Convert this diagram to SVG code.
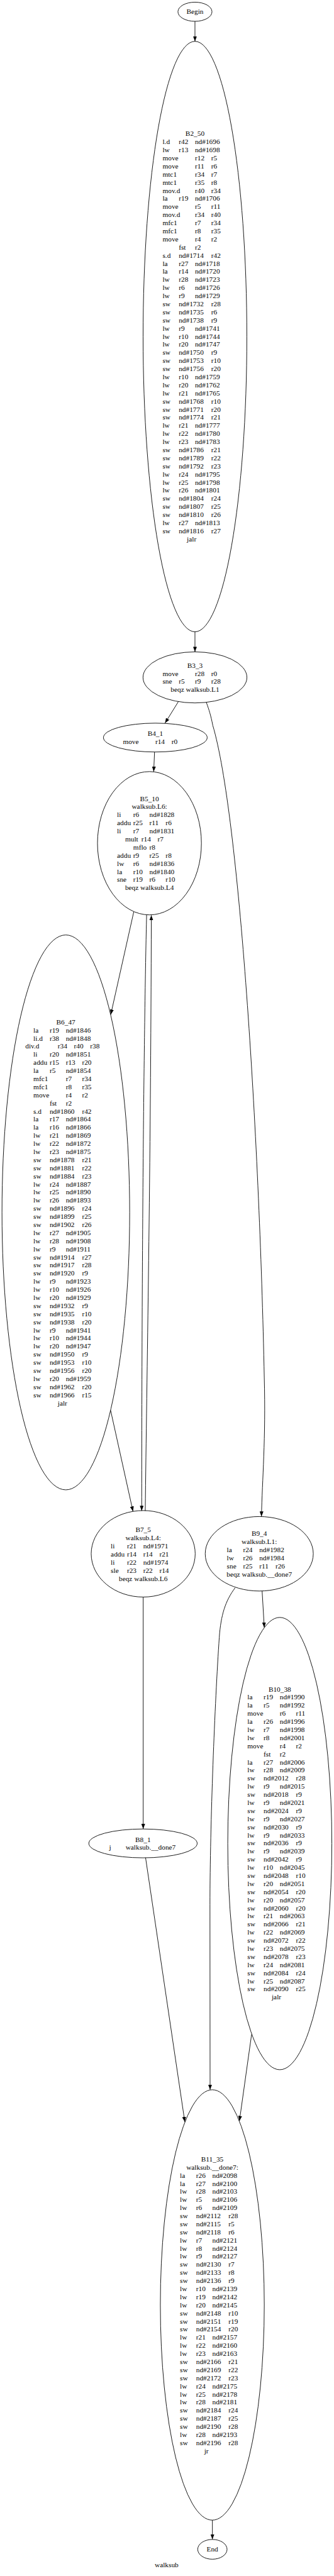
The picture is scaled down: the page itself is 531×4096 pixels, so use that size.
<svg xmlns="http://www.w3.org/2000/svg" width="531" height="4096" viewBox="0 0 531 4096">
<style>
text{font-family:"Liberation Serif","Times New Roman",serif;font-size:17.6px;fill:#000}
.c{text-anchor:middle}
ellipse{fill:none;stroke:#000;stroke-width:1.4}
#edges path{fill:none;stroke:#000;stroke-width:1.4}
</style>
<defs>
<marker id="ah" viewBox="0 0 12.5 9.4" refX="12.5" refY="4.7" markerWidth="12.5" markerHeight="9.4" markerUnits="userSpaceOnUse" orient="auto"><path d="M0,0 L12.5,4.7 L0,9.4 z" fill="#000"/></marker>
</defs>
<rect width="531" height="4096" fill="#fff"/>
<g transform="scale(0.6444)">
<g id="edges">
<path marker-end="url(#ah)" d="M481,52.8 L481,102"/>
<path marker-end="url(#ah)" d="M481,1559 L481,1608.4"/>
<path marker-end="url(#ah)" d="M440.2,1731 L407.1,1784.4"/>
<path marker-end="url(#ah)" d="M509,1733 C516,1752 520,1765 525,1790 C590,2010 640,2800 652,3400 C656,3550 647,3650 645,3742"/>
<path marker-end="url(#ah)" d="M381.3,1855.6 L379.2,1904"/>
<path marker-end="url(#ah)" d="M330,2250 L273.3,2503.4"/>
<path marker-end="url(#ah)" d="M361.7,2257.5 C356,2500 350,3000 349.6,3728"/>
<path marker-end="url(#ah)" d="M358.4,3728 C362,3400 372,2900 373.3,2258.4"/>
<path marker-end="url(#ah)" d="M272.9,3480 L328.1,3729.5"/>
<path marker-end="url(#ah)" d="M353.3,3940.7 L353.3,4513"/>
<path marker-end="url(#ah)" d="M359.2,4584 L456,5236"/>
<path marker-end="url(#ah)" d="M646.7,3926 L652,4016"/>
<path marker-end="url(#ah)" d="M580,3918 C556,3950 545,3985 541,4040 C530,4200 518,4500 518,4700 L518.3,5156.5"/>
<path marker-end="url(#ah)" d="M620.7,5020 L590.7,5233.5"/>
<path marker-end="url(#ah)" d="M524,6218.4 L524,6266"/>
</g>
<g id="Begin" transform="translate(481,0)">
<ellipse cx="0" cy="29" rx="42" ry="23.6"/>
<text class="c" x="0" y="34.5">Begin</text>
</g>
<g id="B2_50" transform="translate(481,0)">
<ellipse cx="0" cy="830.5" rx="128" ry="728.5"/>
<text class="c" x="0" y="335.7">B2_50</text>
<text y="355.7"><tspan x="-80">l.d</tspan><tspan x="-40">r42</tspan><tspan x="0">nd#1696</tspan></text>
<text y="375.7"><tspan x="-80">lw</tspan><tspan x="-40">r13</tspan><tspan x="0">nd#1698</tspan></text>
<text y="395.7"><tspan x="-80">move</tspan><tspan x="0">r12</tspan><tspan x="40">r5</tspan></text>
<text y="415.7"><tspan x="-80">move</tspan><tspan x="0">r11</tspan><tspan x="40">r6</tspan></text>
<text y="435.7"><tspan x="-80">mtc1</tspan><tspan x="0">r34</tspan><tspan x="40">r7</tspan></text>
<text y="455.7"><tspan x="-80">mtc1</tspan><tspan x="0">r35</tspan><tspan x="40">r8</tspan></text>
<text y="475.7"><tspan x="-80">mov.d</tspan><tspan x="0">r40</tspan><tspan x="40">r34</tspan></text>
<text y="495.7"><tspan x="-80">la</tspan><tspan x="-40">r19</tspan><tspan x="0">nd#1706</tspan></text>
<text y="515.7"><tspan x="-80">move</tspan><tspan x="0">r5</tspan><tspan x="40">r11</tspan></text>
<text y="535.7"><tspan x="-80">mov.d</tspan><tspan x="0">r34</tspan><tspan x="40">r40</tspan></text>
<text y="555.7"><tspan x="-80">mfc1</tspan><tspan x="0">r7</tspan><tspan x="40">r34</tspan></text>
<text y="575.7"><tspan x="-80">mfc1</tspan><tspan x="0">r8</tspan><tspan x="40">r35</tspan></text>
<text y="595.7"><tspan x="-80">move</tspan><tspan x="0">r4</tspan><tspan x="40">r2</tspan></text>
<text y="615.7"><tspan x="-40">fst</tspan><tspan x="0">r2</tspan></text>
<text y="635.7"><tspan x="-80">s.d</tspan><tspan x="-40">nd#1714</tspan><tspan x="40">r42</tspan></text>
<text y="655.7"><tspan x="-80">la</tspan><tspan x="-40">r27</tspan><tspan x="0">nd#1718</tspan></text>
<text y="675.7"><tspan x="-80">la</tspan><tspan x="-40">r14</tspan><tspan x="0">nd#1720</tspan></text>
<text y="695.7"><tspan x="-80">lw</tspan><tspan x="-40">r28</tspan><tspan x="0">nd#1723</tspan></text>
<text y="715.7"><tspan x="-80">lw</tspan><tspan x="-40">r6</tspan><tspan x="0">nd#1726</tspan></text>
<text y="735.7"><tspan x="-80">lw</tspan><tspan x="-40">r9</tspan><tspan x="0">nd#1729</tspan></text>
<text y="755.7"><tspan x="-80">sw</tspan><tspan x="-40">nd#1732</tspan><tspan x="40">r28</tspan></text>
<text y="775.7"><tspan x="-80">sw</tspan><tspan x="-40">nd#1735</tspan><tspan x="40">r6</tspan></text>
<text y="795.7"><tspan x="-80">sw</tspan><tspan x="-40">nd#1738</tspan><tspan x="40">r9</tspan></text>
<text y="815.7"><tspan x="-80">lw</tspan><tspan x="-40">r9</tspan><tspan x="0">nd#1741</tspan></text>
<text y="835.7"><tspan x="-80">lw</tspan><tspan x="-40">r10</tspan><tspan x="0">nd#1744</tspan></text>
<text y="855.7"><tspan x="-80">lw</tspan><tspan x="-40">r20</tspan><tspan x="0">nd#1747</tspan></text>
<text y="875.7"><tspan x="-80">sw</tspan><tspan x="-40">nd#1750</tspan><tspan x="40">r9</tspan></text>
<text y="895.7"><tspan x="-80">sw</tspan><tspan x="-40">nd#1753</tspan><tspan x="40">r10</tspan></text>
<text y="915.7"><tspan x="-80">sw</tspan><tspan x="-40">nd#1756</tspan><tspan x="40">r20</tspan></text>
<text y="935.7"><tspan x="-80">lw</tspan><tspan x="-40">r10</tspan><tspan x="0">nd#1759</tspan></text>
<text y="955.7"><tspan x="-80">lw</tspan><tspan x="-40">r20</tspan><tspan x="0">nd#1762</tspan></text>
<text y="975.7"><tspan x="-80">lw</tspan><tspan x="-40">r21</tspan><tspan x="0">nd#1765</tspan></text>
<text y="995.7"><tspan x="-80">sw</tspan><tspan x="-40">nd#1768</tspan><tspan x="40">r10</tspan></text>
<text y="1015.7"><tspan x="-80">sw</tspan><tspan x="-40">nd#1771</tspan><tspan x="40">r20</tspan></text>
<text y="1035.7"><tspan x="-80">sw</tspan><tspan x="-40">nd#1774</tspan><tspan x="40">r21</tspan></text>
<text y="1055.7"><tspan x="-80">lw</tspan><tspan x="-40">r21</tspan><tspan x="0">nd#1777</tspan></text>
<text y="1075.7"><tspan x="-80">lw</tspan><tspan x="-40">r22</tspan><tspan x="0">nd#1780</tspan></text>
<text y="1095.7"><tspan x="-80">lw</tspan><tspan x="-40">r23</tspan><tspan x="0">nd#1783</tspan></text>
<text y="1115.7"><tspan x="-80">sw</tspan><tspan x="-40">nd#1786</tspan><tspan x="40">r21</tspan></text>
<text y="1135.7"><tspan x="-80">sw</tspan><tspan x="-40">nd#1789</tspan><tspan x="40">r22</tspan></text>
<text y="1155.7"><tspan x="-80">sw</tspan><tspan x="-40">nd#1792</tspan><tspan x="40">r23</tspan></text>
<text y="1175.7"><tspan x="-80">lw</tspan><tspan x="-40">r24</tspan><tspan x="0">nd#1795</tspan></text>
<text y="1195.7"><tspan x="-80">lw</tspan><tspan x="-40">r25</tspan><tspan x="0">nd#1798</tspan></text>
<text y="1215.7"><tspan x="-80">lw</tspan><tspan x="-40">r26</tspan><tspan x="0">nd#1801</tspan></text>
<text y="1235.7"><tspan x="-80">sw</tspan><tspan x="-40">nd#1804</tspan><tspan x="40">r24</tspan></text>
<text y="1255.7"><tspan x="-80">sw</tspan><tspan x="-40">nd#1807</tspan><tspan x="40">r25</tspan></text>
<text y="1275.7"><tspan x="-80">sw</tspan><tspan x="-40">nd#1810</tspan><tspan x="40">r26</tspan></text>
<text y="1295.7"><tspan x="-80">lw</tspan><tspan x="-40">r27</tspan><tspan x="0">nd#1813</tspan></text>
<text y="1315.7"><tspan x="-80">sw</tspan><tspan x="-40">nd#1816</tspan><tspan x="40">r27</tspan></text>
<text x="-20" y="1335.7">jalr</text>
</g>
<g id="B3_3" transform="translate(481,0)">
<ellipse cx="0" cy="1671.5" rx="128.2" ry="63"/>
<text class="c" x="0" y="1647.5">B3_3</text>
<text y="1667.5"><tspan x="-80">move</tspan><tspan x="0">r28</tspan><tspan x="40">r0</tspan></text>
<text y="1687.5"><tspan x="-80">sne</tspan><tspan x="-40">r5</tspan><tspan x="0">r9</tspan><tspan x="40">r28</tspan></text>
<text class="c" x="0" y="1707.5">beqz walksub.L1</text>
</g>
<g id="B4_1" transform="translate(383.2,0)">
<ellipse cx="0" cy="1820" rx="128" ry="35.6"/>
<text class="c" x="0" y="1815.6">B4_1</text>
<text y="1835.6"><tspan x="-80">move</tspan><tspan x="0">r14</tspan><tspan x="40">r0</tspan></text>
</g>
<g id="B5_10" transform="translate(368.7,0)">
<ellipse cx="0" cy="2080.7" rx="128.2" ry="176.8"/>
<text class="c" x="0" y="1976.3">B5_10</text>
<text class="c" x="0" y="1996.3">walksub.L6:</text>
<text y="2016.3"><tspan x="-80">li</tspan><tspan x="-40">r6</tspan><tspan x="0">nd#1828</tspan></text>
<text y="2036.3"><tspan x="-80">addu</tspan><tspan x="-40">r25</tspan><tspan x="0">r11</tspan><tspan x="40">r6</tspan></text>
<text y="2056.3"><tspan x="-80">li</tspan><tspan x="-40">r7</tspan><tspan x="0">nd#1831</tspan></text>
<text y="2076.3"><tspan x="-60">mult</tspan><tspan x="-20">r14</tspan><tspan x="20">r7</tspan></text>
<text y="2096.3"><tspan x="-40">mflo</tspan><tspan x="0">r8</tspan></text>
<text y="2116.3"><tspan x="-80">addu</tspan><tspan x="-40">r9</tspan><tspan x="0">r25</tspan><tspan x="40">r8</tspan></text>
<text y="2136.3"><tspan x="-80">lw</tspan><tspan x="-40">r6</tspan><tspan x="0">nd#1836</tspan></text>
<text y="2156.3"><tspan x="-80">la</tspan><tspan x="-40">r10</tspan><tspan x="0">nd#1840</tspan></text>
<text y="2176.3"><tspan x="-80">sne</tspan><tspan x="-40">r19</tspan><tspan x="0">r6</tspan><tspan x="40">r10</tspan></text>
<text class="c" x="0" y="2196.3">beqz walksub.L4</text>
</g>
<g id="B6_47" transform="translate(162.4,0)">
<ellipse cx="0" cy="2991.6" rx="157.5" ry="684.6"/>
<text class="c" x="0" y="2527.6">B6_47</text>
<text y="2547.6"><tspan x="-80">la</tspan><tspan x="-40">r19</tspan><tspan x="0">nd#1846</tspan></text>
<text y="2567.6"><tspan x="-80">li.d</tspan><tspan x="-40">r38</tspan><tspan x="0">nd#1848</tspan></text>
<text y="2587.6"><tspan x="-100">div.d</tspan><tspan x="-20">r34</tspan><tspan x="20">r40</tspan><tspan x="60">r38</tspan></text>
<text y="2607.6"><tspan x="-80">li</tspan><tspan x="-40">r20</tspan><tspan x="0">nd#1851</tspan></text>
<text y="2627.6"><tspan x="-80">addu</tspan><tspan x="-40">r15</tspan><tspan x="0">r13</tspan><tspan x="40">r20</tspan></text>
<text y="2647.6"><tspan x="-80">la</tspan><tspan x="-40">r5</tspan><tspan x="0">nd#1854</tspan></text>
<text y="2667.6"><tspan x="-80">mfc1</tspan><tspan x="0">r7</tspan><tspan x="40">r34</tspan></text>
<text y="2687.6"><tspan x="-80">mfc1</tspan><tspan x="0">r8</tspan><tspan x="40">r35</tspan></text>
<text y="2707.6"><tspan x="-80">move</tspan><tspan x="0">r4</tspan><tspan x="40">r2</tspan></text>
<text y="2727.6"><tspan x="-40">fst</tspan><tspan x="0">r2</tspan></text>
<text y="2747.6"><tspan x="-80">s.d</tspan><tspan x="-40">nd#1860</tspan><tspan x="40">r42</tspan></text>
<text y="2767.6"><tspan x="-80">la</tspan><tspan x="-40">r17</tspan><tspan x="0">nd#1864</tspan></text>
<text y="2787.6"><tspan x="-80">la</tspan><tspan x="-40">r16</tspan><tspan x="0">nd#1866</tspan></text>
<text y="2807.6"><tspan x="-80">lw</tspan><tspan x="-40">r21</tspan><tspan x="0">nd#1869</tspan></text>
<text y="2827.6"><tspan x="-80">lw</tspan><tspan x="-40">r22</tspan><tspan x="0">nd#1872</tspan></text>
<text y="2847.6"><tspan x="-80">lw</tspan><tspan x="-40">r23</tspan><tspan x="0">nd#1875</tspan></text>
<text y="2867.6"><tspan x="-80">sw</tspan><tspan x="-40">nd#1878</tspan><tspan x="40">r21</tspan></text>
<text y="2887.6"><tspan x="-80">sw</tspan><tspan x="-40">nd#1881</tspan><tspan x="40">r22</tspan></text>
<text y="2907.6"><tspan x="-80">sw</tspan><tspan x="-40">nd#1884</tspan><tspan x="40">r23</tspan></text>
<text y="2927.6"><tspan x="-80">lw</tspan><tspan x="-40">r24</tspan><tspan x="0">nd#1887</tspan></text>
<text y="2947.6"><tspan x="-80">lw</tspan><tspan x="-40">r25</tspan><tspan x="0">nd#1890</tspan></text>
<text y="2967.6"><tspan x="-80">lw</tspan><tspan x="-40">r26</tspan><tspan x="0">nd#1893</tspan></text>
<text y="2987.6"><tspan x="-80">sw</tspan><tspan x="-40">nd#1896</tspan><tspan x="40">r24</tspan></text>
<text y="3007.6"><tspan x="-80">sw</tspan><tspan x="-40">nd#1899</tspan><tspan x="40">r25</tspan></text>
<text y="3027.6"><tspan x="-80">sw</tspan><tspan x="-40">nd#1902</tspan><tspan x="40">r26</tspan></text>
<text y="3047.6"><tspan x="-80">lw</tspan><tspan x="-40">r27</tspan><tspan x="0">nd#1905</tspan></text>
<text y="3067.6"><tspan x="-80">lw</tspan><tspan x="-40">r28</tspan><tspan x="0">nd#1908</tspan></text>
<text y="3087.6"><tspan x="-80">lw</tspan><tspan x="-40">r9</tspan><tspan x="0">nd#1911</tspan></text>
<text y="3107.6"><tspan x="-80">sw</tspan><tspan x="-40">nd#1914</tspan><tspan x="40">r27</tspan></text>
<text y="3127.6"><tspan x="-80">sw</tspan><tspan x="-40">nd#1917</tspan><tspan x="40">r28</tspan></text>
<text y="3147.6"><tspan x="-80">sw</tspan><tspan x="-40">nd#1920</tspan><tspan x="40">r9</tspan></text>
<text y="3167.6"><tspan x="-80">lw</tspan><tspan x="-40">r9</tspan><tspan x="0">nd#1923</tspan></text>
<text y="3187.6"><tspan x="-80">lw</tspan><tspan x="-40">r10</tspan><tspan x="0">nd#1926</tspan></text>
<text y="3207.6"><tspan x="-80">lw</tspan><tspan x="-40">r20</tspan><tspan x="0">nd#1929</tspan></text>
<text y="3227.6"><tspan x="-80">sw</tspan><tspan x="-40">nd#1932</tspan><tspan x="40">r9</tspan></text>
<text y="3247.6"><tspan x="-80">sw</tspan><tspan x="-40">nd#1935</tspan><tspan x="40">r10</tspan></text>
<text y="3267.6"><tspan x="-80">sw</tspan><tspan x="-40">nd#1938</tspan><tspan x="40">r20</tspan></text>
<text y="3287.6"><tspan x="-80">lw</tspan><tspan x="-40">r9</tspan><tspan x="0">nd#1941</tspan></text>
<text y="3307.6"><tspan x="-80">lw</tspan><tspan x="-40">r10</tspan><tspan x="0">nd#1944</tspan></text>
<text y="3327.6"><tspan x="-80">lw</tspan><tspan x="-40">r20</tspan><tspan x="0">nd#1947</tspan></text>
<text y="3347.6"><tspan x="-80">sw</tspan><tspan x="-40">nd#1950</tspan><tspan x="40">r9</tspan></text>
<text y="3367.6"><tspan x="-80">sw</tspan><tspan x="-40">nd#1953</tspan><tspan x="40">r10</tspan></text>
<text y="3387.6"><tspan x="-80">sw</tspan><tspan x="-40">nd#1956</tspan><tspan x="40">r20</tspan></text>
<text y="3407.6"><tspan x="-80">lw</tspan><tspan x="-40">r20</tspan><tspan x="0">nd#1959</tspan></text>
<text y="3427.6"><tspan x="-80">sw</tspan><tspan x="-40">nd#1962</tspan><tspan x="40">r20</tspan></text>
<text y="3447.6"><tspan x="-80">sw</tspan><tspan x="-40">nd#1966</tspan><tspan x="40">r15</tspan></text>
<text x="-20" y="3467.6">jalr</text>
</g>
<g id="B7_5" transform="translate(353.3,0)">
<ellipse cx="0" cy="3834" rx="128.3" ry="106.7"/>
<text class="c" x="0" y="3781">B7_5</text>
<text class="c" x="0" y="3801">walksub.L4:</text>
<text y="3821"><tspan x="-80">li</tspan><tspan x="-40">r21</tspan><tspan x="0">nd#1971</tspan></text>
<text y="3841"><tspan x="-80">addu</tspan><tspan x="-40">r14</tspan><tspan x="0">r14</tspan><tspan x="40">r21</tspan></text>
<text y="3861"><tspan x="-80">li</tspan><tspan x="-40">r22</tspan><tspan x="0">nd#1974</tspan></text>
<text y="3881"><tspan x="-80">sle</tspan><tspan x="-40">r23</tspan><tspan x="0">r22</tspan><tspan x="40">r14</tspan></text>
<text class="c" x="0" y="3901">beqz walksub.L6</text>
</g>
<g id="B8_1" transform="translate(352.8,0)">
<ellipse cx="0" cy="4548.6" rx="133.7" ry="35.6"/>
<text class="c" x="0" y="4544.6">B8_1</text>
<text y="4564.6"><tspan x="-83.5">j</tspan><tspan x="-43">walksub.__done7</tspan></text>
</g>
<g id="B9_4" transform="translate(639.6,0)">
<ellipse cx="0" cy="3834" rx="133.3" ry="91.9"/>
<text class="c" x="0" y="3790.2">B9_4</text>
<text class="c" x="0" y="3810.2">walksub.L1:</text>
<text y="3830.2"><tspan x="-80">la</tspan><tspan x="-40">r24</tspan><tspan x="0">nd#1982</tspan></text>
<text y="3850.2"><tspan x="-80">lw</tspan><tspan x="-40">r26</tspan><tspan x="0">nd#1984</tspan></text>
<text y="3870.2"><tspan x="-80">sne</tspan><tspan x="-40">r25</tspan><tspan x="0">r11</tspan><tspan x="40">r26</tspan></text>
<text class="c" x="0" y="3890.2">beqz walksub.__done7</text>
</g>
<g id="B10_38" transform="translate(690.3,0)">
<ellipse cx="0" cy="4549" rx="128.4" ry="558"/>
<text class="c" x="0" y="4173.7">B10_38</text>
<text y="4193.7"><tspan x="-80">la</tspan><tspan x="-40">r19</tspan><tspan x="0">nd#1990</tspan></text>
<text y="4213.7"><tspan x="-80">la</tspan><tspan x="-40">r5</tspan><tspan x="0">nd#1992</tspan></text>
<text y="4233.7"><tspan x="-80">move</tspan><tspan x="0">r6</tspan><tspan x="40">r11</tspan></text>
<text y="4253.7"><tspan x="-80">la</tspan><tspan x="-40">r26</tspan><tspan x="0">nd#1996</tspan></text>
<text y="4273.7"><tspan x="-80">lw</tspan><tspan x="-40">r7</tspan><tspan x="0">nd#1998</tspan></text>
<text y="4293.7"><tspan x="-80">lw</tspan><tspan x="-40">r8</tspan><tspan x="0">nd#2001</tspan></text>
<text y="4313.7"><tspan x="-80">move</tspan><tspan x="0">r4</tspan><tspan x="40">r2</tspan></text>
<text y="4333.7"><tspan x="-40">fst</tspan><tspan x="0">r2</tspan></text>
<text y="4353.7"><tspan x="-80">la</tspan><tspan x="-40">r27</tspan><tspan x="0">nd#2006</tspan></text>
<text y="4373.7"><tspan x="-80">lw</tspan><tspan x="-40">r28</tspan><tspan x="0">nd#2009</tspan></text>
<text y="4393.7"><tspan x="-80">sw</tspan><tspan x="-40">nd#2012</tspan><tspan x="40">r28</tspan></text>
<text y="4413.7"><tspan x="-80">lw</tspan><tspan x="-40">r9</tspan><tspan x="0">nd#2015</tspan></text>
<text y="4433.7"><tspan x="-80">sw</tspan><tspan x="-40">nd#2018</tspan><tspan x="40">r9</tspan></text>
<text y="4453.7"><tspan x="-80">lw</tspan><tspan x="-40">r9</tspan><tspan x="0">nd#2021</tspan></text>
<text y="4473.7"><tspan x="-80">sw</tspan><tspan x="-40">nd#2024</tspan><tspan x="40">r9</tspan></text>
<text y="4493.7"><tspan x="-80">lw</tspan><tspan x="-40">r9</tspan><tspan x="0">nd#2027</tspan></text>
<text y="4513.7"><tspan x="-80">sw</tspan><tspan x="-40">nd#2030</tspan><tspan x="40">r9</tspan></text>
<text y="4533.7"><tspan x="-80">lw</tspan><tspan x="-40">r9</tspan><tspan x="0">nd#2033</tspan></text>
<text y="4553.7"><tspan x="-80">sw</tspan><tspan x="-40">nd#2036</tspan><tspan x="40">r9</tspan></text>
<text y="4573.7"><tspan x="-80">lw</tspan><tspan x="-40">r9</tspan><tspan x="0">nd#2039</tspan></text>
<text y="4593.7"><tspan x="-80">sw</tspan><tspan x="-40">nd#2042</tspan><tspan x="40">r9</tspan></text>
<text y="4613.7"><tspan x="-80">lw</tspan><tspan x="-40">r10</tspan><tspan x="0">nd#2045</tspan></text>
<text y="4633.7"><tspan x="-80">sw</tspan><tspan x="-40">nd#2048</tspan><tspan x="40">r10</tspan></text>
<text y="4653.7"><tspan x="-80">lw</tspan><tspan x="-40">r20</tspan><tspan x="0">nd#2051</tspan></text>
<text y="4673.7"><tspan x="-80">sw</tspan><tspan x="-40">nd#2054</tspan><tspan x="40">r20</tspan></text>
<text y="4693.7"><tspan x="-80">lw</tspan><tspan x="-40">r20</tspan><tspan x="0">nd#2057</tspan></text>
<text y="4713.7"><tspan x="-80">sw</tspan><tspan x="-40">nd#2060</tspan><tspan x="40">r20</tspan></text>
<text y="4733.7"><tspan x="-80">lw</tspan><tspan x="-40">r21</tspan><tspan x="0">nd#2063</tspan></text>
<text y="4753.7"><tspan x="-80">sw</tspan><tspan x="-40">nd#2066</tspan><tspan x="40">r21</tspan></text>
<text y="4773.7"><tspan x="-80">lw</tspan><tspan x="-40">r22</tspan><tspan x="0">nd#2069</tspan></text>
<text y="4793.7"><tspan x="-80">sw</tspan><tspan x="-40">nd#2072</tspan><tspan x="40">r22</tspan></text>
<text y="4813.7"><tspan x="-80">lw</tspan><tspan x="-40">r23</tspan><tspan x="0">nd#2075</tspan></text>
<text y="4833.7"><tspan x="-80">sw</tspan><tspan x="-40">nd#2078</tspan><tspan x="40">r23</tspan></text>
<text y="4853.7"><tspan x="-80">lw</tspan><tspan x="-40">r24</tspan><tspan x="0">nd#2081</tspan></text>
<text y="4873.7"><tspan x="-80">sw</tspan><tspan x="-40">nd#2084</tspan><tspan x="40">r24</tspan></text>
<text y="4893.7"><tspan x="-80">lw</tspan><tspan x="-40">r25</tspan><tspan x="0">nd#2087</tspan></text>
<text y="4913.7"><tspan x="-80">sw</tspan><tspan x="-40">nd#2090</tspan><tspan x="40">r25</tspan></text>
<text x="-20" y="4933.7">jalr</text>
</g>
<g id="B11_35" transform="translate(523.8,0)">
<ellipse cx="0" cy="5687.5" rx="128.2" ry="531"/>
<text class="c" x="0" y="5333.4">B11_35</text>
<text class="c" x="0" y="5353.4">walksub.__done7:</text>
<text y="5373.4"><tspan x="-80">la</tspan><tspan x="-40">r26</tspan><tspan x="0">nd#2098</tspan></text>
<text y="5393.4"><tspan x="-80">la</tspan><tspan x="-40">r27</tspan><tspan x="0">nd#2100</tspan></text>
<text y="5413.4"><tspan x="-80">lw</tspan><tspan x="-40">r28</tspan><tspan x="0">nd#2103</tspan></text>
<text y="5433.4"><tspan x="-80">lw</tspan><tspan x="-40">r5</tspan><tspan x="0">nd#2106</tspan></text>
<text y="5453.4"><tspan x="-80">lw</tspan><tspan x="-40">r6</tspan><tspan x="0">nd#2109</tspan></text>
<text y="5473.4"><tspan x="-80">sw</tspan><tspan x="-40">nd#2112</tspan><tspan x="40">r28</tspan></text>
<text y="5493.4"><tspan x="-80">sw</tspan><tspan x="-40">nd#2115</tspan><tspan x="40">r5</tspan></text>
<text y="5513.4"><tspan x="-80">sw</tspan><tspan x="-40">nd#2118</tspan><tspan x="40">r6</tspan></text>
<text y="5533.4"><tspan x="-80">lw</tspan><tspan x="-40">r7</tspan><tspan x="0">nd#2121</tspan></text>
<text y="5553.4"><tspan x="-80">lw</tspan><tspan x="-40">r8</tspan><tspan x="0">nd#2124</tspan></text>
<text y="5573.4"><tspan x="-80">lw</tspan><tspan x="-40">r9</tspan><tspan x="0">nd#2127</tspan></text>
<text y="5593.4"><tspan x="-80">sw</tspan><tspan x="-40">nd#2130</tspan><tspan x="40">r7</tspan></text>
<text y="5613.4"><tspan x="-80">sw</tspan><tspan x="-40">nd#2133</tspan><tspan x="40">r8</tspan></text>
<text y="5633.4"><tspan x="-80">sw</tspan><tspan x="-40">nd#2136</tspan><tspan x="40">r9</tspan></text>
<text y="5653.4"><tspan x="-80">lw</tspan><tspan x="-40">r10</tspan><tspan x="0">nd#2139</tspan></text>
<text y="5673.4"><tspan x="-80">lw</tspan><tspan x="-40">r19</tspan><tspan x="0">nd#2142</tspan></text>
<text y="5693.4"><tspan x="-80">lw</tspan><tspan x="-40">r20</tspan><tspan x="0">nd#2145</tspan></text>
<text y="5713.4"><tspan x="-80">sw</tspan><tspan x="-40">nd#2148</tspan><tspan x="40">r10</tspan></text>
<text y="5733.4"><tspan x="-80">sw</tspan><tspan x="-40">nd#2151</tspan><tspan x="40">r19</tspan></text>
<text y="5753.4"><tspan x="-80">sw</tspan><tspan x="-40">nd#2154</tspan><tspan x="40">r20</tspan></text>
<text y="5773.4"><tspan x="-80">lw</tspan><tspan x="-40">r21</tspan><tspan x="0">nd#2157</tspan></text>
<text y="5793.4"><tspan x="-80">lw</tspan><tspan x="-40">r22</tspan><tspan x="0">nd#2160</tspan></text>
<text y="5813.4"><tspan x="-80">lw</tspan><tspan x="-40">r23</tspan><tspan x="0">nd#2163</tspan></text>
<text y="5833.4"><tspan x="-80">sw</tspan><tspan x="-40">nd#2166</tspan><tspan x="40">r21</tspan></text>
<text y="5853.4"><tspan x="-80">sw</tspan><tspan x="-40">nd#2169</tspan><tspan x="40">r22</tspan></text>
<text y="5873.4"><tspan x="-80">sw</tspan><tspan x="-40">nd#2172</tspan><tspan x="40">r23</tspan></text>
<text y="5893.4"><tspan x="-80">lw</tspan><tspan x="-40">r24</tspan><tspan x="0">nd#2175</tspan></text>
<text y="5913.4"><tspan x="-80">lw</tspan><tspan x="-40">r25</tspan><tspan x="0">nd#2178</tspan></text>
<text y="5933.4"><tspan x="-80">lw</tspan><tspan x="-40">r28</tspan><tspan x="0">nd#2181</tspan></text>
<text y="5953.4"><tspan x="-80">sw</tspan><tspan x="-40">nd#2184</tspan><tspan x="40">r24</tspan></text>
<text y="5973.4"><tspan x="-80">sw</tspan><tspan x="-40">nd#2187</tspan><tspan x="40">r25</tspan></text>
<text y="5993.4"><tspan x="-80">sw</tspan><tspan x="-40">nd#2190</tspan><tspan x="40">r28</tspan></text>
<text y="6013.4"><tspan x="-80">lw</tspan><tspan x="-40">r28</tspan><tspan x="0">nd#2193</tspan></text>
<text y="6033.4"><tspan x="-80">sw</tspan><tspan x="-40">nd#2196</tspan><tspan x="40">r28</tspan></text>
<text x="-20" y="6053.4">jr</text>
</g>
<g id="End" transform="translate(524,0)">
<ellipse cx="0" cy="6290.5" rx="36.2" ry="24.4"/>
<text class="c" x="0" y="6296">End</text>
</g>
<text class="c" x="411" y="6335">walksub</text>
</g>
</svg>
